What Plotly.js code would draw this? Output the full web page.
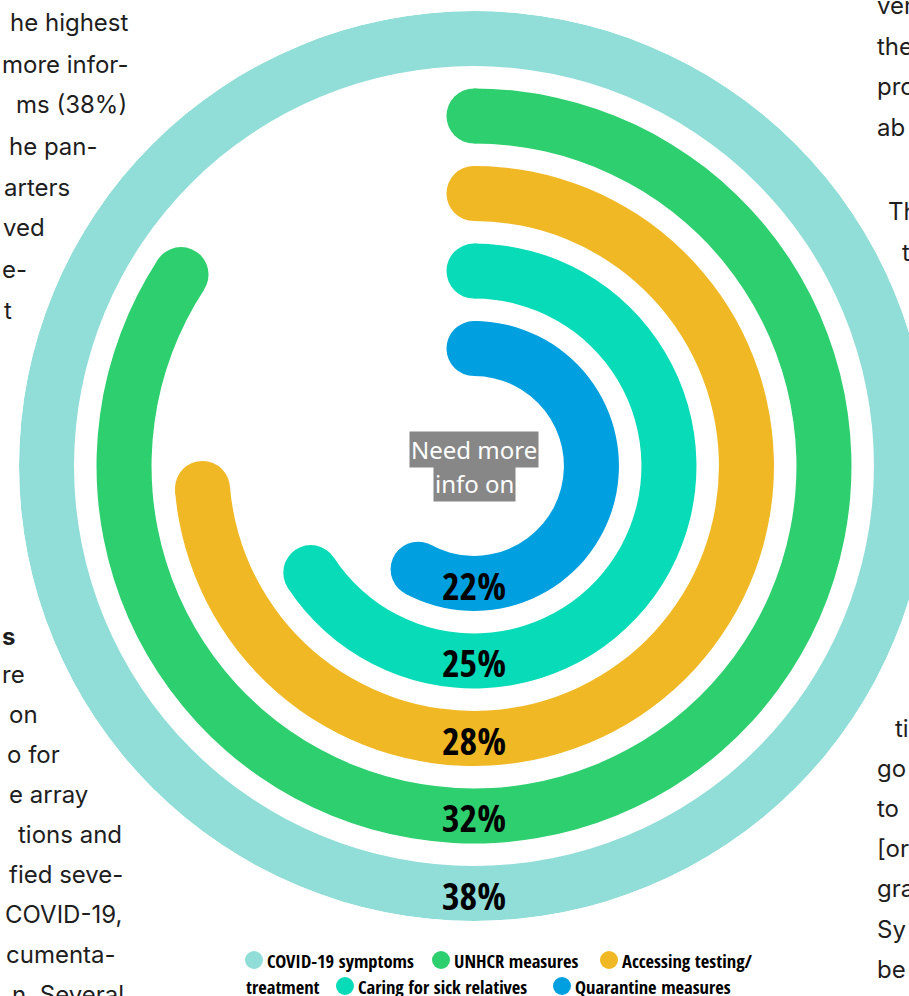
<!DOCTYPE html>
<html><head><meta charset="utf-8">
<script src="https://cdn.plot.ly/plotly-3.0.1.min.js"></script>
<style>html,body{margin:0;padding:0;overflow:hidden;background:#fff;width:909px;height:996px}#chart{width:940px;height:996px}</style>
</head><body><div id="chart"></div>
<script>
// ---- data ----
const categories = ['COVID-19 symptoms', 'UNHCR measures', 'Accessing testing/ treatment', 'Caring for sick relatives', 'Quarantine measures'];
const values = [38, 32, 28, 25, 22];
const valueLabels = ['38%', '32%', '28%', '25%', '22%'];
const centreLabel = ['Need more', 'info on'];
const legendRow1 = ['COVID-19 symptoms', 'UNHCR measures', 'Accessing testing/'];
const legendRow2 = ['treatment', 'Caring for sick relatives', 'Quarantine measures'];
// surrounding article text fragments (as visible in the reference)
const leftText = ['he highest', 'more infor-', 'ms (38%)', 'he pan-', 'arters', 'ved', 'e-', 't'];
const leftText2 = ['re', 'on', 'o for', 'e array', 'tions and', 'fied seve-', 'COVID-19,', 'cumenta-', 'n. Several'];
const rightText = ['ver', 'the', 'pro', 'ab'];
const rightText2 = ['ti', 'go', 'to', '[or', 'gra', 'Sy', 'be'];

// ---- styles / geometry ----
const colors = ['#91ddd8', '#2ecf6e', '#f0b824', '#07dbb7', '#009fe0'];
const W = 940, H = 996;
const CX = 474, CY = 466, R = 455;
const RMAX = 5.87, BAND = 0.71, BASE0 = 1.16, LABEL_SHIFT = 0.09;
const condensed = 'Open Sans Condensed, Roboto Condensed, DejaVu Sans Condensed, sans-serif';
const px = x => x / W, py = y => 1 - y / H;

const vmax = Math.max(...values);
const n = values.length;
const traces = [];
values.forEach((v, i) => {
  const ring = n - 1 - i;
  const base = BASE0 + ring;
  const span = v / vmax * 360;
  traces.push({
    type: 'barpolar', r: [BAND], base: [base], theta: [span / 2], width: [span],
    marker: {color: colors[i], line: {width: 0}}, name: categories[i],
    showlegend: false, hoverinfo: 'skip'
  });
  if (span < 360) {
    traces.push({
      type: 'scatterpolar', mode: 'markers',
      r: [base + BAND / 2, base + BAND / 2], theta: [0, span],
      marker: {color: colors[i], size: BAND * R / RMAX, line: {width: 0}},
      showlegend: false, hoverinfo: 'skip'
    });
  }
});
traces.push({
  type: 'scatterpolar', mode: 'text',
  r: values.map((v, i) => BASE0 + (n - 1 - i) + BAND / 2 + LABEL_SHIFT),
  theta: values.map(() => 180),
  text: valueLabels, textposition: 'middle center',
  textfont: {family: condensed, size: 38, color: '#000', weight: 800},
  showlegend: false, hoverinfo: 'skip'
});

const annotations = [];
const shapes = [];
const artFont = {family: 'Inter, Roboto, sans-serif', size: 24, color: '#1e1e1e'};
// left article text
const leftEnds = [131, 130, 129, 100, 72, 47, 29, 14];
leftText.forEach((t, i) => annotations.push({text: t, x: px(leftEnds[i]), y: py(23 + i * 41), xref: 'paper', yref: 'paper', xanchor: 'right', yanchor: 'middle', showarrow: false, font: artFont}));
annotations.push({text: '<b>s</b>', x: px(17), y: py(636), xref: 'paper', yref: 'paper', xanchor: 'right', yanchor: 'middle', showarrow: false, font: artFont});
const leftEnds2 = [27, 40, 62, 90, 124, 125, 124, 118, 126];
leftText2.forEach((t, i) => annotations.push({text: t, x: px(leftEnds2[i]), y: py(674 + i * 40), xref: 'paper', yref: 'paper', xanchor: 'right', yanchor: 'middle', showarrow: false, font: artFont}));
rightText.forEach((t, i) => annotations.push({text: t, x: px(875), y: py(6 + i * 40.5), xref: 'paper', yref: 'paper', xanchor: 'left', yanchor: 'middle', showarrow: false, font: artFont}));
annotations.push({text: 'Th', x: px(886), y: py(212), xref: 'paper', yref: 'paper', xanchor: 'left', yanchor: 'middle', showarrow: false, font: artFont});
annotations.push({text: 't', x: px(900), y: py(252), xref: 'paper', yref: 'paper', xanchor: 'left', yanchor: 'middle', showarrow: false, font: artFont});
rightText2.forEach((t, i) => annotations.push({text: t, x: px(i === 0 ? 893 : 875), y: py(728 + i * 40.2), xref: 'paper', yref: 'paper', xanchor: 'left', yanchor: 'middle', showarrow: false, font: artFont}));

// centre label
centreLabel.forEach((t, i) => annotations.push({
  text: t, x: px(CX), y: py(449 + i * 34), xref: 'paper', yref: 'paper',
  xanchor: 'center', yanchor: 'middle', showarrow: false,
  bgcolor: '#878787', borderpad: 1,
  font: {family: 'Noto Sans, sans-serif', size: 24, color: '#ffffff'}
}));

// legend (two wrapped rows)
const legFont = {family: condensed, size: 18.5, color: '#000', weight: 800};
const row1Dots = [254, 441, 609], row1Text = [265, 452, 620];
legendRow1.forEach((t, i) => {
  shapes.push({type: 'circle', xref: 'paper', yref: 'paper', x0: px(row1Dots[i] - 9), x1: px(row1Dots[i] + 9), y0: py(960 + 9), y1: py(960 - 9), fillcolor: colors[i], line: {width: 0}});
  annotations.push({text: t, x: px(row1Text[i]), y: py(960), xref: 'paper', yref: 'paper', xanchor: 'left', yanchor: 'middle', showarrow: false, font: legFont});
});
annotations.push({text: legendRow2[0], x: px(244), y: py(986), xref: 'paper', yref: 'paper', xanchor: 'left', yanchor: 'middle', showarrow: false, font: legFont});
const row2Dots = [345, 562], row2Text = [356, 573];
[1, 2].forEach((k, j) => {
  shapes.push({type: 'circle', xref: 'paper', yref: 'paper', x0: px(row2Dots[j] - 9), x1: px(row2Dots[j] + 9), y0: py(986 + 9), y1: py(986 - 9), fillcolor: colors[3 + j], line: {width: 0}});
  annotations.push({text: legendRow2[k], x: px(row2Text[j]), y: py(986), xref: 'paper', yref: 'paper', xanchor: 'left', yanchor: 'middle', showarrow: false, font: legFont});
});

const layout = {
  width: W, height: H,
  margin: {l: 0, r: 0, t: 0, b: 0},
  paper_bgcolor: '#ffffff',
  showlegend: false,
  polar: {
    domain: {x: [px(CX - R), px(CX + R)], y: [py(CY + R), py(CY - R)]},
    bgcolor: 'rgba(0,0,0,0)',
    radialaxis: {range: [0, RMAX], visible: false},
    angularaxis: {rotation: 90, direction: 'clockwise', visible: false, thetaunit: 'degrees'}
  },
  annotations: annotations,
  shapes: shapes
};
Plotly.newPlot('chart', traces, layout, {displayModeBar: false, staticPlot: true});
</script>
</body></html>
